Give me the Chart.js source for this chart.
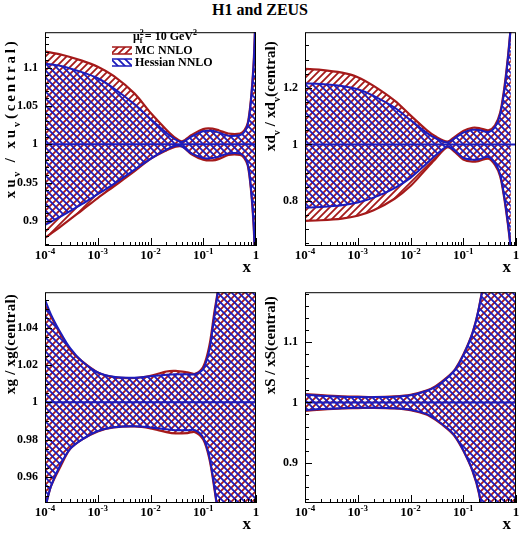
<!DOCTYPE html>
<html>
<head>
<meta charset="utf-8">
<script src="https://cdn.jsdelivr.net/npm/chart.js@4.4.0/dist/chart.umd.min.js"></script>
<style>
  body { margin: 0; background: #fff; }
  #wrap { position: relative; width: 520px; height: 536px; overflow: hidden; }
  #title { position: absolute; left: 0; top: 1px; width: 520px; text-align: center;
           font: bold 16px/18px "Liberation Serif", "Times New Roman", serif; }
  canvas { position: absolute; }
</style>
</head>
<body>
<div id="wrap">
  <div id="title">H1 and ZEUS</div>
  <canvas id="c1" width="260" height="262" style="left:0;top:18px"></canvas>
  <canvas id="c2" width="260" height="262" style="left:260px;top:18px"></canvas>
  <canvas id="c3" width="260" height="258" style="left:0;top:278px"></canvas>
  <canvas id="c4" width="260" height="258" style="left:260px;top:278px"></canvas>
</div>
<script>
// ratios to the central fit at Q2 = 10 GeV2

// xu_v
const uvX      = [1e-4, 2e-4, 5e-4, 1e-3, 2e-3, 5e-3, 0.01, 0.02, 0.03, 0.04, 0.06, 0.1, 0.15, 0.2, 0.3, 0.5, 0.6, 0.7, 0.8, 0.9, 0.97];
const uvMcUp   = [1.121, 1.117, 1.109, 1.101, 1.089, 1.066, 1.041, 1.019, 1.008, 1.004, 1.012, 1.020, 1.0205, 1.018, 1.014, 1.014, 1.018, 1.028, 1.058, 1.105, 1.16];
const uvMcLo   = [0.878, 0.893, 0.914, 0.930, 0.945, 0.965, 0.981, 0.992, 0.997, 0.997, 0.987, 0.980, 0.979, 0.981, 0.986, 0.986, 0.982, 0.972, 0.942, 0.895, 0.84];
const uvHesUp  = [1.105, 1.102, 1.094, 1.086, 1.073, 1.052, 1.033, 1.015, 1.006, 1.003, 1.010, 1.017, 1.0175, 1.015, 1.011, 1.012, 1.016, 1.026, 1.056, 1.102, 1.16];
const uvHesLo  = [0.895, 0.906, 0.922, 0.935, 0.948, 0.967, 0.981, 0.993, 0.998, 0.997, 0.988, 0.982, 0.982, 0.984, 0.988, 0.988, 0.984, 0.974, 0.944, 0.898, 0.84];
const uvTicks  = [0.9, 0.95, 1, 1.05, 1.1];

// xd_v
const dvX      = [1e-4, 2e-4, 5e-4, 1e-3, 2e-3, 5e-3, 0.01, 0.02, 0.03, 0.05, 0.07, 0.1, 0.15, 0.2, 0.3, 0.4, 0.5, 0.6, 0.7, 0.8];
const dvMcUp   = [1.267, 1.264, 1.254, 1.238, 1.207, 1.155, 1.103, 1.052, 1.028, 1.010, 1.028, 1.048, 1.059, 1.058, 1.050, 1.068, 1.112, 1.20, 1.306, 1.42];
const dvMcLo   = [0.730, 0.732, 0.738, 0.748, 0.767, 0.808, 0.853, 0.914, 0.950, 0.990, 0.973, 0.947, 0.939, 0.942, 0.950, 0.928, 0.888, 0.809, 0.72, 0.63];
const dvHesUp  = [1.216, 1.214, 1.207, 1.195, 1.172, 1.130, 1.086, 1.042, 1.022, 1.007, 1.023, 1.042, 1.052, 1.051, 1.044, 1.062, 1.105, 1.19, 1.30, 1.42];
const dvHesLo  = [0.777, 0.779, 0.785, 0.795, 0.812, 0.846, 0.882, 0.932, 0.962, 0.993, 0.977, 0.953, 0.946, 0.948, 0.956, 0.934, 0.895, 0.815, 0.725, 0.63];
const dvTicks  = [0.8, 1, 1.2];

// xg
const gX       = [1e-4, 1.3e-4, 2e-4, 3e-4, 5e-4, 1e-3, 2e-3, 5e-3, 0.01, 0.02, 0.03, 0.05, 0.07, 0.1, 0.13, 0.16, 0.2, 0.3, 1];
const gMcUp    = [1.052, 1.046, 1.036, 1.028, 1.022, 1.016, 1.0135, 1.013, 1.0142, 1.0165, 1.0168, 1.016, 1.0152, 1.019, 1.030, 1.047, 1.065, 1.12, 1.3];
const gMcLo    = [0.943, 0.955, 0.966, 0.975, 0.980, 0.9844, 0.9865, 0.987, 0.986, 0.984, 0.9833, 0.9835, 0.984, 0.980, 0.970, 0.955, 0.935, 0.88, 0.7];
const gHesUp   = [1.055, 1.047, 1.037, 1.029, 1.022, 1.016, 1.0137, 1.0132, 1.014, 1.0148, 1.015, 1.015, 1.015, 1.018, 1.028, 1.045, 1.065, 1.12, 1.3];
const gHesLo   = [0.943, 0.955, 0.967, 0.975, 0.980, 0.9845, 0.9866, 0.9872, 0.9865, 0.9855, 0.985, 0.985, 0.985, 0.981, 0.971, 0.956, 0.935, 0.88, 0.7];
const gTicks   = [0.96, 0.98, 1, 1.02, 1.04];

// xS
const sX       = [1e-4, 2e-4, 5e-4, 1e-3, 2e-3, 5e-3, 0.01, 0.02, 0.03, 0.05, 0.07, 0.1, 0.15, 0.2, 0.3, 1];
const sMcUp    = [1.014, 1.012, 1.010, 1.0095, 1.009, 1.010, 1.0125, 1.0196, 1.027, 1.042, 1.055, 1.079, 1.116, 1.159, 1.25, 1.6];
const sMcLo    = [0.986, 0.988, 0.990, 0.9905, 0.991, 0.990, 0.987, 0.980, 0.971, 0.956, 0.943, 0.920, 0.886, 0.848, 0.75, 0.4];
const sHesUp   = [1.013, 1.011, 1.0095, 1.009, 1.0088, 1.0095, 1.012, 1.019, 1.026, 1.041, 1.054, 1.078, 1.115, 1.158, 1.25, 1.6];
const sHesLo   = [0.987, 0.989, 0.9905, 0.991, 0.9912, 0.9905, 0.988, 0.981, 0.972, 0.957, 0.944, 0.921, 0.887, 0.849, 0.75, 0.4];
const sTicks   = [0.9, 1, 1.1];

const xTickVals = [1e-4, 1e-3, 1e-2, 1e-1, 1];
const xTickExps = ['-4', '-3', '-2', '-1', ''];

const RED = '#a51a1a';
const BLUE = '#1c1cbc';
const FONT = '"Liberation Serif", "Times New Roman", serif';

const panels = [
  { id: 'c1', xs: uvX, mcUp: uvMcUp, mcLo: uvMcLo, hesUp: uvHesUp, hesLo: uvHesLo, ticks: uvTicks,
    min: 0.8675, max: 1.146, minor: 0.01, xh: 34, legend: true,
    title: [['xu', 0], ['v', 1], [' / xu', 0], ['v', 1], ['(central)', 0]], titleLen: 157, titleEnd: 9 },
  { id: 'c2', xs: dvX, mcUp: dvMcUp, mcLo: dvMcLo, hesUp: dvHesUp, hesLo: dvHesLo, ticks: dvTicks,
    min: 0.641, max: 1.397, minor: 0.05, xh: 34,
    title: [['xd', 0], ['v', 1], [' / xd', 0], ['v', 1], ['(central)', 0]], titleLen: 110, titleEnd: 9 },
  { id: 'c3', xs: gX, mcUp: gMcUp, mcLo: gMcLo, hesUp: gHesUp, hesLo: gHesLo, ticks: gTicks,
    min: 0.946, max: 1.059, minor: 0.005, xh: 33,
    title: [['xg / xg(central)', 0]], titleLen: 100, titleEnd: 2 },
  { id: 'c4', xs: sX, mcUp: sMcUp, mcLo: sMcLo, hesUp: sHesUp, hesLo: sHesLo, ticks: sTicks,
    min: 0.833, max: 1.183, minor: 0.02, xh: 33,
    title: [['xS / xS(central)', 0]], titleLen: 98, titleEnd: 4 }
];

function hatchTile(color, dir) {
  const s = 7, c = document.createElement('canvas');
  c.width = s; c.height = s;
  const g = c.getContext('2d');
  g.strokeStyle = color; g.lineWidth = 1.8;
  g.beginPath();
  if (dir > 0) {
    g.moveTo(-1, s + 1); g.lineTo(s + 1, -1);
    g.moveTo(-1, 1); g.lineTo(1, -1);
    g.moveTo(s - 1, s + 1); g.lineTo(s + 1, s - 1);
  } else {
    g.moveTo(-1, -1); g.lineTo(s + 1, s + 1);
    g.moveTo(s - 1, -1); g.lineTo(s + 1, 1);
    g.moveTo(-1, s - 1); g.lineTo(1, s + 1);
  }
  g.stroke();
  return c;
}
const mcTile = hatchTile(RED, 1);
const hesTile = hatchTile(BLUE, -1);

// text with sub (1) / super (2) scripts, optional extra letter spacing
function rich(ctx, parts, size, spacing, draw) {
  let cx = 0;
  parts.forEach(([t, k]) => {
    const fs = k ? Math.round(size * 0.68) : size;
    ctx.font = `bold ${fs}px ${FONT}`;
    const dy = k === 1 ? size * 0.3 : k === 2 ? -size * 0.42 : 0;
    for (const ch of t) {
      if (draw) ctx.fillText(ch, cx, dy);
      cx += ctx.measureText(ch).width + spacing;
    }
  });
  return cx - spacing;
}

function drawLegend(ctx, mcPat, hesPat) {
  ctx.fillStyle = '#000';
  ctx.textAlign = 'left';
  ctx.textBaseline = 'alphabetic';
  // mu_f^2 = 10 GeV^2
  let x = 133, y = 21.5;
  ctx.font = `bold 12px ${FONT}`;
  ctx.fillText('\u03bc', x, y);
  x += ctx.measureText('\u03bc').width;
  ctx.font = `bold 8px ${FONT}`;
  ctx.fillText('2', x, y - 4.5);
  ctx.fillText('f', x, y + 3);
  x += ctx.measureText('2').width + 1;
  ctx.font = `bold 12px ${FONT}`;
  ctx.fillText('= 10 GeV', x, y);
  x += ctx.measureText('= 10 GeV').width;
  ctx.font = `bold 8px ${FONT}`;
  ctx.fillText('2', x, y - 4.5);

  const rows = [[mcPat, RED, 'MC NNLO', 36], [hesPat, BLUE, 'Hessian NNLO', 48]];
  rows.forEach(([pat, col, label, base]) => {
    ctx.fillStyle = pat;
    ctx.fillRect(112, base - 7, 20, 7);
    ctx.strokeStyle = col; ctx.lineWidth = 1.5;
    ctx.beginPath();
    ctx.moveTo(112, base - 7); ctx.lineTo(132, base - 7);
    ctx.moveTo(112, base); ctx.lineTo(132, base);
    ctx.stroke();
    ctx.fillStyle = '#000';
    ctx.font = `bold 12px ${FONT}`;
    ctx.fillText(label, 135, base);
  });
}

const decor = (p, mcPat, hesPat) => ({
  id: 'decor',
  afterDraw(chart) {
    const { ctx, chartArea: a, scales: { x, y } } = chart;
    ctx.save();
    ctx.strokeStyle = '#000';
    ctx.lineWidth = 1;
    ctx.beginPath();
    // y ticks (inside the frame)
    for (let i = Math.ceil(p.min / p.minor - 1e-6); i * p.minor <= p.max + 1e-9; i++) {
      const v = i * p.minor;
      const major = p.ticks.some(t => Math.abs(t - v) < p.minor / 10);
      const py = Math.round(y.getPixelForValue(v)) + 0.5;
      ctx.moveTo(a.left, py); ctx.lineTo(a.left + (major ? 7 : 4), py);
    }
    // x ticks
    for (let k = -4; k <= 0; k++) {
      for (let m = 1; m <= 9; m++) {
        const v = m * Math.pow(10, k);
        if (v > 1.0001) break;
        const px = Math.round(x.getPixelForValue(v)) + 0.5;
        ctx.moveTo(px, a.bottom); ctx.lineTo(px, a.bottom - (m === 1 ? 8 : 4));
      }
    }
    ctx.stroke();
    ctx.strokeRect(a.left + 0.5, a.top + 0.5, a.right - a.left - 1, a.bottom - a.top - 1);

    // x tick labels 10^n
    ctx.fillStyle = '#000';
    ctx.textBaseline = 'alphabetic';
    ctx.textAlign = 'left';
    xTickVals.forEach((v, i) => {
      const px = x.getPixelForValue(v);
      const base = xTickExps[i] ? '10' : '1';
      ctx.font = `bold 13px ${FONT}`;
      const w1 = ctx.measureText(base).width;
      ctx.font = `bold 9px ${FONT}`;
      const w2 = xTickExps[i] ? ctx.measureText(xTickExps[i]).width : 0;
      const x0 = px - (w1 + w2) / 2;
      ctx.font = `bold 13px ${FONT}`;
      ctx.fillText(base, x0, a.bottom + 13);
      if (w2) {
        ctx.font = `bold 9px ${FONT}`;
        ctx.fillText(xTickExps[i], x0 + w1, a.bottom + 8);
      }
    });
    ctx.font = `bold 17px ${FONT}`;
    ctx.textAlign = 'right';
    ctx.fillText('x', a.right - 5, a.bottom + 26);

    // y title, reading upwards, its end near the top of the frame
    ctx.textAlign = 'left';
    const natural = rich(ctx, p.title, 15, 0, false);
    const glyphs = p.title.reduce((n, s) => n + [...s[0]].length, 0);
    const sp = (p.titleLen - natural) / (glyphs - 1);
    ctx.translate(15, a.top + p.titleEnd + p.titleLen);
    ctx.rotate(-Math.PI / 2);
    rich(ctx, p.title, 15, sp, true);
    ctx.restore();

    if (p.legend) {
      ctx.save();
      drawLegend(ctx, mcPat, hesPat);
      ctx.restore();
    }
  }
});

panels.forEach(p => {
  const el = document.getElementById(p.id);
  const g = el.getContext('2d');
  const mcPat = g.createPattern(mcTile, 'repeat');
  const hesPat = g.createPattern(hesTile, 'repeat');
  const pts = arr => p.xs.map((x, i) => ({ x, y: arr[i] }));
  new Chart(el, {
    type: 'line',
    data: {
      datasets: [
        { data: [{ x: 1e-4, y: 1 }, { x: 1, y: 1 }], borderColor: BLUE, borderWidth: 2, fill: false },
        { data: pts(p.hesUp), borderColor: BLUE, borderWidth: 2, fill: '+1', backgroundColor: hesPat },
        { data: pts(p.hesLo), borderColor: BLUE, borderWidth: 2, fill: false },
        { data: pts(p.mcUp), borderColor: RED, borderWidth: 2.2, fill: '+1', backgroundColor: mcPat },
        { data: pts(p.mcLo), borderColor: RED, borderWidth: 2.2, fill: false }
      ]
    },
    options: {
      responsive: false,
      animation: false,
      devicePixelRatio: 1,
      events: [],
      layout: { padding: { top: 5, right: 4, left: 0, bottom: 0 } },
      elements: {
        point: { radius: 0 },
        line: { tension: 0.3, capBezierPoints: false }
      },
      scales: {
        x: {
          type: 'logarithmic', min: 1e-4, max: 1,
          grid: { display: false, drawTicks: false },
          border: { display: false },
          ticks: { display: false },
          afterFit: s => { s.height = p.xh; }
        },
        y: {
          min: p.min, max: p.max,
          grid: { display: false, drawTicks: false },
          border: { display: false },
          afterBuildTicks: s => { s.ticks = p.ticks.map(v => ({ value: v })); },
          ticks: {
            padding: 7, color: '#000',
            font: { family: FONT, size: 12, weight: 'bold' },
            callback: v => String(parseFloat(v.toFixed(3)))
          },
          afterFit: s => { s.width = 45; }
        }
      },
      plugins: { legend: { display: false }, tooltip: { enabled: false } }
    },
    plugins: [decor(p, mcPat, hesPat)]
  });
});
</script>
</body>
</html>
